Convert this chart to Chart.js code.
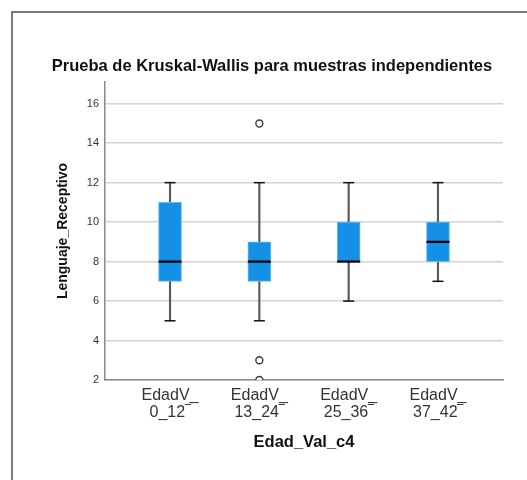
<!DOCTYPE html>
<html>
<head>
<meta charset="utf-8">
<script src="https://cdn.jsdelivr.net/npm/chart.js@4/dist/chart.umd.min.js"></script>
<style>
  html, body { margin: 0; padding: 0; background: #fff; }
  #wrap { position: relative; width: 527px; height: 480px; }
  #frame { position: absolute; left: 11px; top: 11px; right: 0; bottom: 0;
           border-left: 2px solid #7a7a7a; border-top: 2px solid #7a7a7a; }
  canvas { position: absolute; left: 0; top: 0; }
</style>
</head>
<body>
<div id="wrap">
  <div id="frame"></div>
  <canvas id="boxChart" width="527" height="480"></canvas>
</div>
<script>
const groups   = [['EdadV_', '0_12‾'], ['EdadV_', '13_24‾'], ['EdadV_', '25_36‾'], ['EdadV_', '37_42‾']];
const mins     = [5, 5, 6, 7];
const q1s      = [7, 7, 8, 8];
const medians  = [8, 8, 8, 9];
const q3s      = [11, 9, 10, 10];
const maxs     = [12, 12, 12, 12];
const outliers = [[], [15, 3, 2], [], []];
const yTicks   = [2, 4, 6, 8, 10, 12, 14, 16];

const FONT = "'Liberation Sans', Arial, sans-serif";
const BLUE = '#1490e6';

const idx = groups.map((g, i) => i);

// boxes are floating bars, whiskers thin floating bars, caps/medians line points
const whiskerData = idx.map(i => ({ x: i, y: [mins[i], maxs[i]] }));
const boxData     = idx.map(i => ({ x: i, y: [q1s[i], q3s[i]] }));
const medianData  = idx.map(i => ({ x: i, y: medians[i] }));
const capData     = [];
idx.forEach(i => {
  capData.push({ x: i, y: mins[i] });
  capData.push({ x: i, y: maxs[i] });
});
const outlierData = [];
idx.forEach(i => outliers[i].forEach(v => outlierData.push({ x: i, y: v })));

new Chart(document.getElementById('boxChart'), {
  type: 'bar',
  data: {
    datasets: [
      { type: 'bar', data: whiskerData, grouped: false, barThickness: 1.5,
        backgroundColor: '#5a5a5a', borderWidth: 0, order: 5 },
      { type: 'bar', data: boxData, grouped: false, barThickness: 23,
        backgroundColor: BLUE, borderColor: '#6cb8f0', borderWidth: 1, borderSkipped: false, order: 4 },
      { type: 'scatter', data: capData, pointStyle: 'line', pointRadius: 5.5,
        borderColor: '#111', borderWidth: 1.5, order: 3 },
      { type: 'scatter', data: medianData, pointStyle: 'line', pointRadius: 11.5,
        borderColor: '#000', borderWidth: 2.2, order: 2 },
      { type: 'scatter', data: outlierData, pointStyle: 'circle', pointRadius: 3.5,
        backgroundColor: '#fff', borderColor: '#3a3a3a', borderWidth: 1.4, clip: 0, order: 1 }
    ]
  },
  options: {
    responsive: false,
    animation: false,
    events: [],
    layout: { padding: { left: 41, right: 24, top: 0, bottom: 0 } },
    plugins: {
      legend: { display: false },
      tooltip: { enabled: false },
      title: {
        display: true,
        text: 'Prueba de Kruskal-Wallis para muestras independientes',
        color: '#111',
        font: { family: FONT, size: 16.5, weight: 'bold', lineHeight: 1.2 },
        padding: { top: 56.1, bottom: 6.1 }
      }
    },
    scales: {
      x: {
        type: 'linear',
        offset: false,
        min: -0.728,
        max: 3.728,
        afterBuildTicks: s => { s.ticks = idx.map(v => ({ value: v })); },
        afterFit: s => { s.height = 100; },
        grid: { display: false, drawTicks: false },
        border: { display: true, color: '#8a8a8a', width: 1.5 },
        ticks: {
          padding: 7,
          color: '#333',
          font: { family: FONT, size: 16, lineHeight: 1.07 },
          maxRotation: 0,
          autoSkip: false,
          callback: v => groups[v]
        },
        title: {
          display: true,
          text: 'Edad_Val_c4',
          color: '#111',
          font: { family: FONT, size: 16.5, weight: 'bold', lineHeight: 1.2 },
          padding: { top: 0, bottom: 28.1 }
        }
      },
      y: {
        min: 2,
        max: 17.1,
        afterBuildTicks: s => { s.ticks = yTicks.map(v => ({ value: v })); },
        afterFit: s => { s.width = 64; },
        grid: { color: '#d4d4d4', lineWidth: 1.5, drawTicks: false },
        border: { display: true, color: '#8a8a8a', width: 1.5 },
        ticks: {
          padding: 6,
          color: '#333',
          font: { family: FONT, size: 11 }
        },
        title: {
          display: true,
          text: 'Lenguaje_Receptivo',
          color: '#111',
          font: { family: FONT, size: 14, weight: 'bold', lineHeight: 1.2 },
          padding: { top: 13.6, bottom: 0 }
        }
      }
    }
  }
});
</script>
</body>
</html>
